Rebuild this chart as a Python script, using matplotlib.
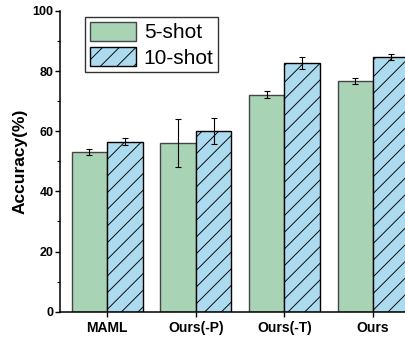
import numpy as np
import matplotlib.pyplot as plt
from matplotlib.ticker import MultipleLocator

plt.rcParams['font.family'] = ['Liberation Sans', 'DejaVu Sans']
plt.rcParams['hatch.linewidth'] = 0.65

methods = ['MAML', 'Ours(-P)', 'Ours(-T)', 'Ours']
acc_5shot = [53.1, 56.1, 72.2, 76.6]
err_5shot = [1.0, 8.0, 1.2, 1.0]
acc_10shot = [56.5, 60.0, 82.7, 84.7]
err_10shot = [1.1, 4.3, 2.1, 1.1]
yticks = [0, 20, 40, 60, 80, 100]

fig = plt.figure(figsize=(4.06, 3.41), dpi=100)
ax = fig.add_axes([0.148, 0.086, 0.852, 0.882])

x = np.arange(len(methods))
w = 0.4
ekw = dict(elinewidth=0.8, capthick=0.8, ecolor='black')
ax.bar(x - w / 2, acc_5shot, w, yerr=err_5shot, capsize=2.5, error_kw=ekw,
       color='#a8d4b5', edgecolor='#454545', linewidth=1.0, label='5-shot')
ax.bar(x + w / 2, acc_10shot, w, yerr=err_10shot, capsize=2.5, error_kw=ekw,
       color='#acdaee', edgecolor='black', linewidth=1.0, hatch='//', label='10-shot')

ax.set_xlim(-0.53, 3.37)
ax.set_ylim(0, 100)
ax.set_xticks(x)
ax.set_xticklabels(methods, fontsize=10, fontweight='bold')
ax.set_yticks(yticks)
ax.set_yticklabels([str(t) for t in yticks], fontsize=9, fontweight='bold')
ax.yaxis.set_minor_locator(MultipleLocator(10))
ax.set_ylabel('Accuracy(%)', fontsize=12.5, fontweight='bold', labelpad=4)

ax.spines['top'].set_visible(False)
ax.spines['right'].set_visible(False)
for s in ('left', 'bottom'):
    ax.spines[s].set_linewidth(1.1)
ax.tick_params(axis='both', which='major', length=3.6, width=1.0, pad=1)
ax.tick_params(axis='x', which='major', pad=3)
ax.tick_params(axis='y', which='minor', length=2, width=0.8)

leg = ax.legend(loc='upper left', bbox_to_anchor=(0.072, 0.98), borderaxespad=0,
                fontsize=15, frameon=True, fancybox=False, edgecolor='black',
                handlelength=2.25, handleheight=1.05, handletextpad=0.35,
                labelspacing=0.22, borderpad=0.22)
leg.get_frame().set_linewidth(1.0)

fig.savefig('out.png', dpi=100)
